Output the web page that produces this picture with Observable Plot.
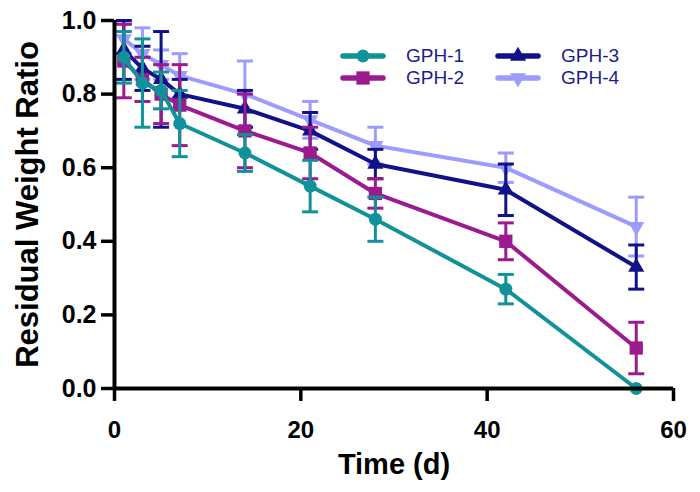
<!DOCTYPE html>
<html><head><meta charset="utf-8">
<script src="https://cdn.jsdelivr.net/npm/d3@7"></script>
<script src="https://cdn.jsdelivr.net/npm/@observablehq/plot@0.6"></script>
<style>
body{margin:0;background:#fff;}
#wrap{position:relative;width:700px;height:492px;}
#chart svg{font-family:"Liberation Sans",Arial,sans-serif;font-weight:bold;color:#000;}
g[aria-label="x-axis label"] text{font-size:29px;}
g[aria-label="y-axis label"] text{font-size:31px;}
.leg{position:absolute;display:flex;align-items:center;font-family:"Liberation Sans",Arial,sans-serif;font-size:19px;color:#1c1c8c;line-height:18px;height:18px;}
.leg svg{margin-right:20px;}
</style></head>
<body><div id="wrap"><div id="chart"></div></div>
<script>
const days = [1, 3, 5, 7, 14, 21, 28, 42, 56];
const seriesNames = ["GPH-1", "GPH-2", "GPH-3", "GPH-4"];
const seriesColors = ["#11929b", "#9b1b8e", "#11118a", "#9c9cff"];
const gph1 = [0.90, 0.83, 0.81, 0.72, 0.64, 0.55, 0.46, 0.27, 0.00];
const gph1Err = [0.07, 0.12, 0.05, 0.09, 0.05, 0.07, 0.06, 0.04, 0.00];
const gph2 = [0.89, 0.84, 0.80, 0.77, 0.70, 0.64, 0.53, 0.40, 0.11];
const gph2Err = [0.10, 0.06, 0.08, 0.11, 0.10, 0.07, 0.04, 0.05, 0.07];
const gph3 = [0.92, 0.87, 0.84, 0.80, 0.76, 0.70, 0.61, 0.54, 0.33];
const gph3Err = [0.08, 0.06, 0.13, 0.04, 0.05, 0.05, 0.04, 0.07, 0.06];
const gph4 = [0.95, 0.91, 0.88, 0.85, 0.80, 0.73, 0.66, 0.60, 0.44];
const gph4Err = [0.04, 0.07, 0.04, 0.06, 0.09, 0.05, 0.05, 0.04, 0.08];
const xTicks = [0, 20, 40, 60];
const yTicks = [0, 0.2, 0.4, 0.6, 0.8, 1.0];

const values = [gph1, gph2, gph3, gph4];
const errors = [gph1Err, gph2Err, gph3Err, gph4Err];

const triDown = {draw(ctx, size) {
  const y = -Math.sqrt(size / (Math.sqrt(3) * 3));
  ctx.moveTo(0, -2 * y);
  ctx.lineTo(-Math.sqrt(3) * y, y);
  ctx.lineTo(Math.sqrt(3) * y, y);
  ctx.closePath();
}};
const capSym = {draw(ctx, size) {
  const w = Math.sqrt(size / Math.PI);
  ctx.moveTo(-w, 0); ctx.lineTo(w, 0);
}};
const symbols = [d3.symbolCircle, d3.symbolSquare, d3.symbolTriangle, triDown];
const symR = [6.5, 7.5, 6, 6];

const rows = seriesNames.flatMap((name, i) => days.map((t, j) => ({
  series: name, t, v: values[i][j], e: errors[i][j],
  lo: values[i][j] - errors[i][j], hi: values[i][j] + errors[i][j]
})));

const marks = [];
for (let i = seriesNames.length - 1; i >= 0; i--) {
  const d = rows.filter(r => r.series === seriesNames[i]);
  const de = d.filter(r => r.e > 0);
  const c = seriesColors[i];
  marks.push(
    Plot.ruleX(de, {x: "t", y1: "lo", y2: "hi", stroke: c, strokeWidth: 3}),
    Plot.dot(de, {x: "t", y: "lo", symbol: capSym, r: 8, stroke: c, strokeWidth: 3, fill: "none"}),
    Plot.dot(de, {x: "t", y: "hi", symbol: capSym, r: 8, stroke: c, strokeWidth: 3, fill: "none"}),
    Plot.line(d, {x: "t", y: "v", stroke: c, strokeWidth: 4}),
    Plot.dot(d, {x: "t", y: "v", symbol: symbols[i], r: symR[i], fill: c, stroke: "none"})
  );
}

const chart = Plot.plot({
  width: 700, height: 492,
  marginLeft: 114, marginRight: 27, marginTop: 20, marginBottom: 104,
  x: {domain: [0, 60]},
  y: {domain: [0, 1]},
  marks: [
    Plot.axisX({ticks: xTicks, tickSize: 13, tickPadding: 19, strokeWidth: 3.5, fontSize: 24,
      label: "Time (d)", labelAnchor: "center", labelArrow: "none", labelOffset: 85}),
    Plot.axisY({ticks: yTicks, tickFormat: d3.format(".1f"), tickSize: 13, tickPadding: 5, strokeWidth: 3.5, fontSize: 25,
      label: "Residual Weight Ratio", labelAnchor: "center", labelArrow: "none", labelOffset: 99}),
    ...marks,
    Plot.ruleY([0], {stroke: "#000", strokeWidth: 4}),
    Plot.ruleX([0], {stroke: "#000", strokeWidth: 4})
  ]
});
document.getElementById("chart").appendChild(chart);

// legend (HTML overlay)
const wrap = d3.select("#wrap");
const legPos = [[340, 47], [340, 69], [495, 47], [495, 69]];
seriesNames.forEach((name, i) => {
  const item = wrap.append("div").attr("class", "leg")
    .style("left", legPos[i][0] + "px").style("top", legPos[i][1] + "px");
  const s = item.append("svg").attr("width", 46).attr("height", 18);
  s.append("line").attr("x1", 3).attr("x2", 43).attr("y1", 9).attr("y2", 9)
    .attr("stroke", seriesColors[i]).attr("stroke-width", 5.5).attr("stroke-linecap", "round");
  s.append("path").attr("transform", "translate(23,9)")
    .attr("d", d3.symbol(symbols[i], Math.PI * symR[i] * symR[i])())
    .attr("fill", seriesColors[i]);
  item.append("span").text(name);
});
</script></body></html>
